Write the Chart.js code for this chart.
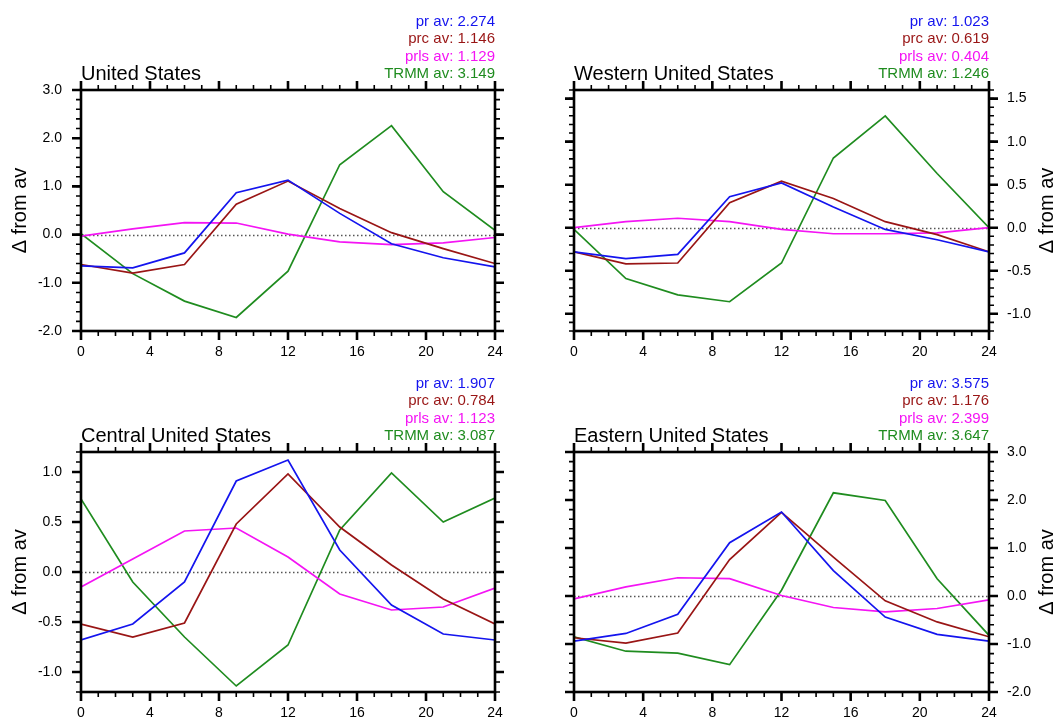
<!DOCTYPE html>
<html>
<head>
<meta charset="utf-8">
<title>Diurnal precipitation anomalies</title>
<script src="https://cdn.jsdelivr.net/npm/chart.js@4.4.1/dist/chart.umd.min.js"></script>
<style>
  html, body { margin: 0; padding: 0; background: #fff; }
  #wrap { position: relative; width: 1060px; height: 724px; overflow: hidden; }
  #wrap canvas { position: absolute; }
</style>
</head>
<body>
<div id="wrap">
  <canvas id="c0" width="530" height="362" style="left:0;top:0"></canvas>
  <canvas id="c1" width="530" height="362" style="left:530px;top:0"></canvas>
  <canvas id="c2" width="530" height="362" style="left:0;top:362px"></canvas>
  <canvas id="c3" width="530" height="362" style="left:530px;top:362px"></canvas>
</div>
<script>
// hour of day (local), 3-hourly
const HOURS = [0, 3, 6, 9, 12, 15, 18, 21, 24];
const SERIES = ['pr', 'prc', 'prls', 'TRMM'];

// anomaly from daily mean, mm/day
const US_PR    = [-0.65, -0.69, -0.38, 0.87, 1.13, 0.44, -0.19, -0.48, -0.67];
const US_PRC   = [-0.62, -0.80, -0.62, 0.63, 1.11, 0.54, 0.04, -0.29, -0.60];
const US_PRLS  = [-0.03, 0.12, 0.25, 0.24, 0.01, -0.15, -0.21, -0.17, -0.06];
const US_TRMM  = [0.02, -0.81, -1.38, -1.72, -0.76, 1.45, 2.26, 0.89, 0.09];
const US_AV    = ['2.274', '1.146', '1.129', '3.149'];

const WEST_PR   = [-0.28, -0.36, -0.31, 0.36, 0.52, 0.24, -0.02, -0.14, -0.28];
const WEST_PRC  = [-0.28, -0.42, -0.41, 0.29, 0.54, 0.34, 0.07, -0.08, -0.28];
const WEST_PRLS = [0.0, 0.07, 0.11, 0.07, -0.02, -0.07, -0.07, -0.06, 0.0];
const WEST_TRMM = [-0.02, -0.59, -0.78, -0.86, -0.41, 0.81, 1.30, 0.63, 0.0];
const WEST_AV   = ['1.023', '0.619', '0.404', '1.246'];

const CENT_PR   = [-0.68, -0.52, -0.10, 0.91, 1.12, 0.22, -0.33, -0.62, -0.68];
const CENT_PRC  = [-0.52, -0.65, -0.51, 0.48, 0.98, 0.45, 0.07, -0.27, -0.52];
const CENT_PRLS = [-0.15, 0.13, 0.41, 0.44, 0.15, -0.22, -0.38, -0.35, -0.16];
const CENT_TRMM = [0.73, -0.10, -0.65, -1.14, -0.73, 0.42, 0.99, 0.50, 0.74];
const CENT_AV   = ['1.907', '0.784', '1.123', '3.087'];

const EAST_PR   = [-0.94, -0.78, -0.38, 1.11, 1.75, 0.53, -0.44, -0.80, -0.94];
const EAST_PRC  = [-0.87, -0.98, -0.77, 0.76, 1.74, 0.81, -0.10, -0.54, -0.85];
const EAST_PRLS = [-0.06, 0.19, 0.38, 0.36, 0.01, -0.24, -0.33, -0.26, -0.08];
const EAST_TRMM = [-0.85, -1.15, -1.19, -1.43, 0.12, 2.15, 1.99, 0.36, -0.82];
const EAST_AV   = ['3.575', '1.176', '2.399', '3.647'];

const COLORS = ['#1414ee', '#991515', '#f414f4', '#1f8c1f'];
const FONT = '"Liberation Sans", Arial, Helvetica, sans-serif';

const PANELS = [
  { id: 'c0', title: 'United States', series: [US_PR, US_PRC, US_PRLS, US_TRMM], av: US_AV,
    ymin: -2, ymax: 3, step: 1, minor: 0.2, side: 'left', xh: 31 },
  { id: 'c1', title: 'Western United States', series: [WEST_PR, WEST_PRC, WEST_PRLS, WEST_TRMM], av: WEST_AV,
    ymin: -1.2, ymax: 1.6, step: 0.5, minor: 0.1, side: 'right', xh: 31 },
  { id: 'c2', title: 'Central United States', series: [CENT_PR, CENT_PRC, CENT_PRLS, CENT_TRMM], av: CENT_AV,
    ymin: -1.2, ymax: 1.2, step: 0.5, minor: 0.1, side: 'left', xh: 32 },
  { id: 'c3', title: 'Eastern United States', series: [EAST_PR, EAST_PRC, EAST_PRLS, EAST_TRMM], av: EAST_AV,
    ymin: -2, ymax: 3, step: 1, minor: 0.2, side: 'right', xh: 32 }
];

// dotted zero line under the curves
const zeroLine = {
  id: 'zeroLine',
  beforeDatasetsDraw(chart) {
    const { ctx, chartArea: a, scales: { y } } = chart;
    const py = Math.round(y.getPixelForValue(0)) + 0.5;
    ctx.save();
    ctx.strokeStyle = '#555';
    ctx.lineWidth = 1.4;
    ctx.setLineDash([1.5, 2.5]);
    ctx.beginPath(); ctx.moveTo(a.left, py); ctx.lineTo(a.right, py); ctx.stroke();
    ctx.restore();
  }
};

// heavy frame with outward ticks on all four sides, plus titles and averages
const frame = {
  id: 'frame',
  afterDatasetsDraw(chart, args, opts) {
    const { ctx, chartArea: a, scales: { x, y } } = chart;
    const MAJ = 9, MIN = 5;
    ctx.save();
    ctx.strokeStyle = '#000';
    ctx.lineCap = 'butt';

    const xs = (v, len) => {
      const px = x.getPixelForValue(v);
      ctx.moveTo(px, a.top); ctx.lineTo(px, a.top - len);
      ctx.moveTo(px, a.bottom); ctx.lineTo(px, a.bottom + len);
    };
    const ys = (v, len) => {
      const py = y.getPixelForValue(v);
      ctx.moveTo(a.left, py); ctx.lineTo(a.left - len, py);
      ctx.moveTo(a.right, py); ctx.lineTo(a.right + len, py);
    };

    ctx.lineWidth = 1.6;
    ctx.beginPath();
    for (let h = x.min; h <= x.max; h++) if (h % 4) xs(h, MIN);
    const n = Math.round((y.max - y.min) / opts.minor);
    for (let i = 0; i <= n; i++) ys(y.min + i * opts.minor, MIN);
    ctx.stroke();

    ctx.lineWidth = 2.6;
    ctx.beginPath();
    x.ticks.forEach(t => xs(t.value, MAJ));
    y.ticks.forEach(t => ys(t.value, MAJ));
    ctx.stroke();

    ctx.lineWidth = 2.6;
    ctx.strokeRect(a.left, a.top, a.right - a.left, a.bottom - a.top);

    // region title
    ctx.fillStyle = '#000';
    ctx.font = '20px ' + FONT;
    ctx.textAlign = 'left';
    ctx.textBaseline = 'alphabetic';
    ctx.fillText(opts.title, a.left, a.top - 10);

    // per-series daily averages
    ctx.font = '15px ' + FONT;
    ctx.textAlign = 'right';
    SERIES.forEach((s, i) => {
      ctx.fillStyle = COLORS[i];
      ctx.fillText(s + ' av: ' + opts.av[i], a.right, a.top - 12 - 17.4 * (3 - i));
    });

    // axis title, always reading bottom-to-top
    const cx = opts.side === 'left' ? 20 : chart.width - 13;
    ctx.save();
    ctx.translate(cx, (a.top + a.bottom) / 2);
    ctx.rotate(-Math.PI / 2);
    ctx.fillStyle = '#000';
    ctx.font = '20px ' + FONT;
    ctx.textAlign = 'center';
    ctx.textBaseline = 'middle';
    ctx.fillText('\u0394 from av', 0, 0);
    ctx.restore();

    ctx.restore();
  }
};

PANELS.forEach(p => {
  const left = p.side === 'left';
  new Chart(document.getElementById(p.id), {
    type: 'line',
    data: {
      datasets: p.series.map((vals, i) => ({
        label: SERIES[i],
        data: HOURS.map((h, k) => ({ x: h, y: vals[k] })),
        borderColor: COLORS[i],
        borderWidth: 1.7,
        pointRadius: 0,
        tension: 0,
        fill: false
      }))
    },
    options: {
      responsive: false,
      animation: false,
      devicePixelRatio: 1,
      layout: { padding: left ? { top: 90, left: 0, right: 35, bottom: 0 } : { top: 90, left: 44, right: 0, bottom: 0 } },
      plugins: {
        legend: { display: false },
        tooltip: { enabled: false },
        frame: { title: p.title, av: p.av, minor: p.minor, side: p.side }
      },
      scales: {
        x: {
          type: 'linear', min: 0, max: 24,
          grid: { display: false, drawTicks: false },
          border: { display: false },
          ticks: { stepSize: 4, padding: 13, maxRotation: 0, autoSkip: false, color: '#000',
                   font: { family: FONT, size: 14 } },
          afterFit: s => { s.height = p.xh; }
        },
        y: {
          position: p.side, min: p.ymin, max: p.ymax,
          grid: { display: false, drawTicks: false },
          border: { display: false },
          ticks: { stepSize: p.step, includeBounds: false, padding: left ? 19 : 18, color: '#000',
                   font: { family: FONT, size: 14 }, callback: v => v.toFixed(1) },
          afterFit: s => { s.width = left ? 81 : 71; }
        }
      }
    },
    plugins: [zeroLine, frame]
  });
});
</script>
</body>
</html>
